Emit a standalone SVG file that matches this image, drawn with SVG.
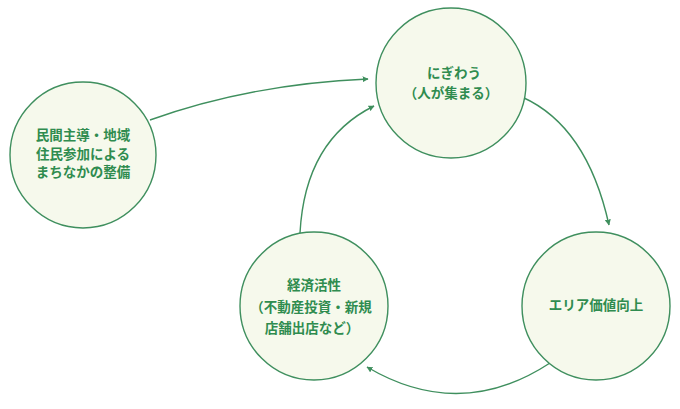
<svg xmlns="http://www.w3.org/2000/svg" width="680" height="409" viewBox="0 0 680 409">
<style>
.node{fill:#f6f9ec;stroke:#3f8f5e;stroke-width:1.4}
.lbl{font-family:"Noto Sans CJK JP","Noto Sans",sans-serif;font-size:13.5px;font-weight:bold;fill:#2f8c4f;text-anchor:middle}
.edge{fill:none;stroke:#3f8f5e;stroke-width:1.4}
</style>
<defs>
<marker id="ah" viewBox="0 0 10 10" refX="9" refY="5" markerWidth="6" markerHeight="6" orient="auto" markerUnits="userSpaceOnUse">
<path d="M0,0 L10,5 L0,10 z" fill="#3f8f5e"/>
</marker>
</defs>
<rect width="680" height="409" fill="#ffffff"/>
<g id="connectors">
<path class="edge" d="M150,120 Q250,84 368,79" marker-end="url(#ah)"/>
<path class="edge" d="M300,233 Q305,140 374,106" marker-end="url(#ah)"/>
<path class="edge" d="M522,97 Q587,126 609,225" marker-end="url(#ah)"/>
<path class="edge" d="M550,363 Q460,422 367,367" marker-end="url(#ah)"/>
</g>
<g id="node-seibi">
<circle class="node" cx="83" cy="155" r="73"/>
<text class="lbl" x="83" y="140">民間主導・地域</text>
<text class="lbl" x="83" y="158.5">住民参加による</text>
<text class="lbl" x="83" y="177">まちなかの整備</text>
</g>
<g id="node-nigiwau">
<circle class="node" cx="451" cy="83" r="75"/>
<text class="lbl" x="454" y="78">にぎわう</text>
<text class="lbl" x="451" y="98">（人が集まる）</text>
</g>
<g id="node-keizai">
<circle class="node" cx="314" cy="306" r="74"/>
<text class="lbl" x="314" y="290">経済活性</text>
<text class="lbl" x="311" y="311.5">（不動産投資・新規</text>
<text class="lbl" x="312" y="333">店舗出店など）</text>
</g>
<g id="node-area">
<circle class="node" cx="596" cy="306" r="74"/>
<text class="lbl" x="596" y="310">エリア価値向上</text>
</g>
</svg>
